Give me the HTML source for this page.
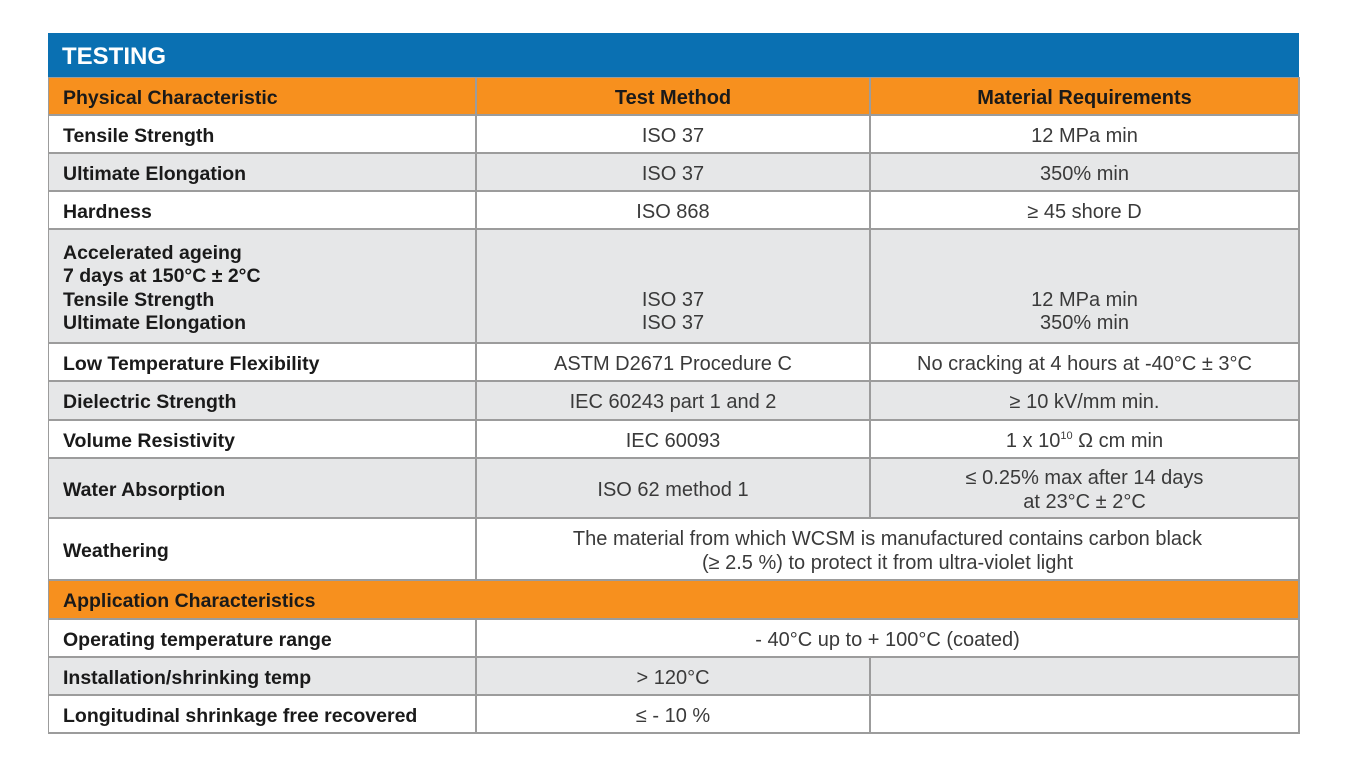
<!DOCTYPE html>
<html><head><meta charset="utf-8"><style>
body{margin:0;width:1365px;height:767px;background:#fff;position:relative;overflow:hidden;font-family:"Liberation Sans",sans-serif}
.c{position:absolute;box-sizing:border-box;display:flex;flex-direction:column;justify-content:center;font-size:20px;line-height:23.5px;color:#3a3a3a;padding-top:5px}
.l{padding-left:14px;font-weight:bold;color:#1a1a1a;font-size:19.5px}
.m{align-items:center;text-align:center}
.g{background:#e6e7e8}.w{background:#fff}.o{background:#f7901e;font-weight:bold;color:#1a1a1a}
sup{font-size:11px;line-height:0;vertical-align:8px}
</style></head><body>
<div style="position:absolute;left:48px;top:33px;width:1251px;height:44px;background:#0a70b2;color:#fff;font-weight:bold;font-size:24px;line-height:48px;padding-left:14px;box-sizing:border-box">TESTING</div>
<div style="position:absolute;left:48px;top:77px;width:1252px;height:657px;background:#9c9c9c"></div>
<div id="t"></div>
<script>
const rows=[
[77,115,'o',['Physical Characteristic','Test Method','Material Requirements']],
[115,153,'w',['Tensile Strength','ISO 37','12 MPa min']],
[153,191,'g',['Ultimate Elongation','ISO 37','350% min']],
[191,229,'w',['Hardness','ISO 868','≥ 45 shore D']],
[229,343,'g',['Accelerated ageing<br>7 days at 150°C ± 2°C<br>Tensile Strength<br>Ultimate Elongation','<br><br>ISO 37<br>ISO 37','<br><br>12 MPa min<br>350% min']],
[343,381,'w',['Low Temperature Flexibility','ASTM D2671 Procedure C','No cracking at 4 hours at -40°C ± 3°C']],
[381,420,'g',['Dielectric Strength','IEC 60243 part 1 and 2','≥ 10 kV/mm min.']],
[420,458,'w',['Volume Resistivity','IEC 60093','1 x 10<sup>10</sup> Ω cm min']],
[458,518,'g',['Water Absorption','ISO 62 method 1','≤ 0.25% max after 14 days<br>at 23°C ± 2°C']],
[518,580,'w',['Weathering','The material from which WCSM is manufactured contains carbon black<br>(≥ 2.5 %) to protect it from ultra-violet light']],
[580,619,'o',['Application Characteristics']],
[619,657,'w',['Operating temperature range','- 40°C up to + 100°C (coated)']],
[657,695,'g',['Installation/shrinking temp','> 120°C','']],
[695,733,'w',['Longitudinal shrinkage free recovered','≤ - 10 %','']]
];
const cols=[48,476,870,1299];
const t=document.getElementById('t');
rows.forEach((r,i)=>{
 const cells=r[3];
 cells.forEach((txt,j)=>{
  let x0=cols[j],x1=(cells.length===1)?cols[3]:(cells.length===2&&j===1)?cols[3]:cols[j+1];
  const d=document.createElement('div');
  d.className='c '+r[2]+(j===0?' l':' m');
  d.style.left=(x0+1)+'px';d.style.top=(r[0]+1)+'px';
  d.style.width=(x1-x0-2)+'px';d.style.height=(r[1]-r[0]-2)+'px';
  d.innerHTML='<span>'+txt+'</span>';
  
  
  t.appendChild(d);
 });
});
</script>
</body></html>
